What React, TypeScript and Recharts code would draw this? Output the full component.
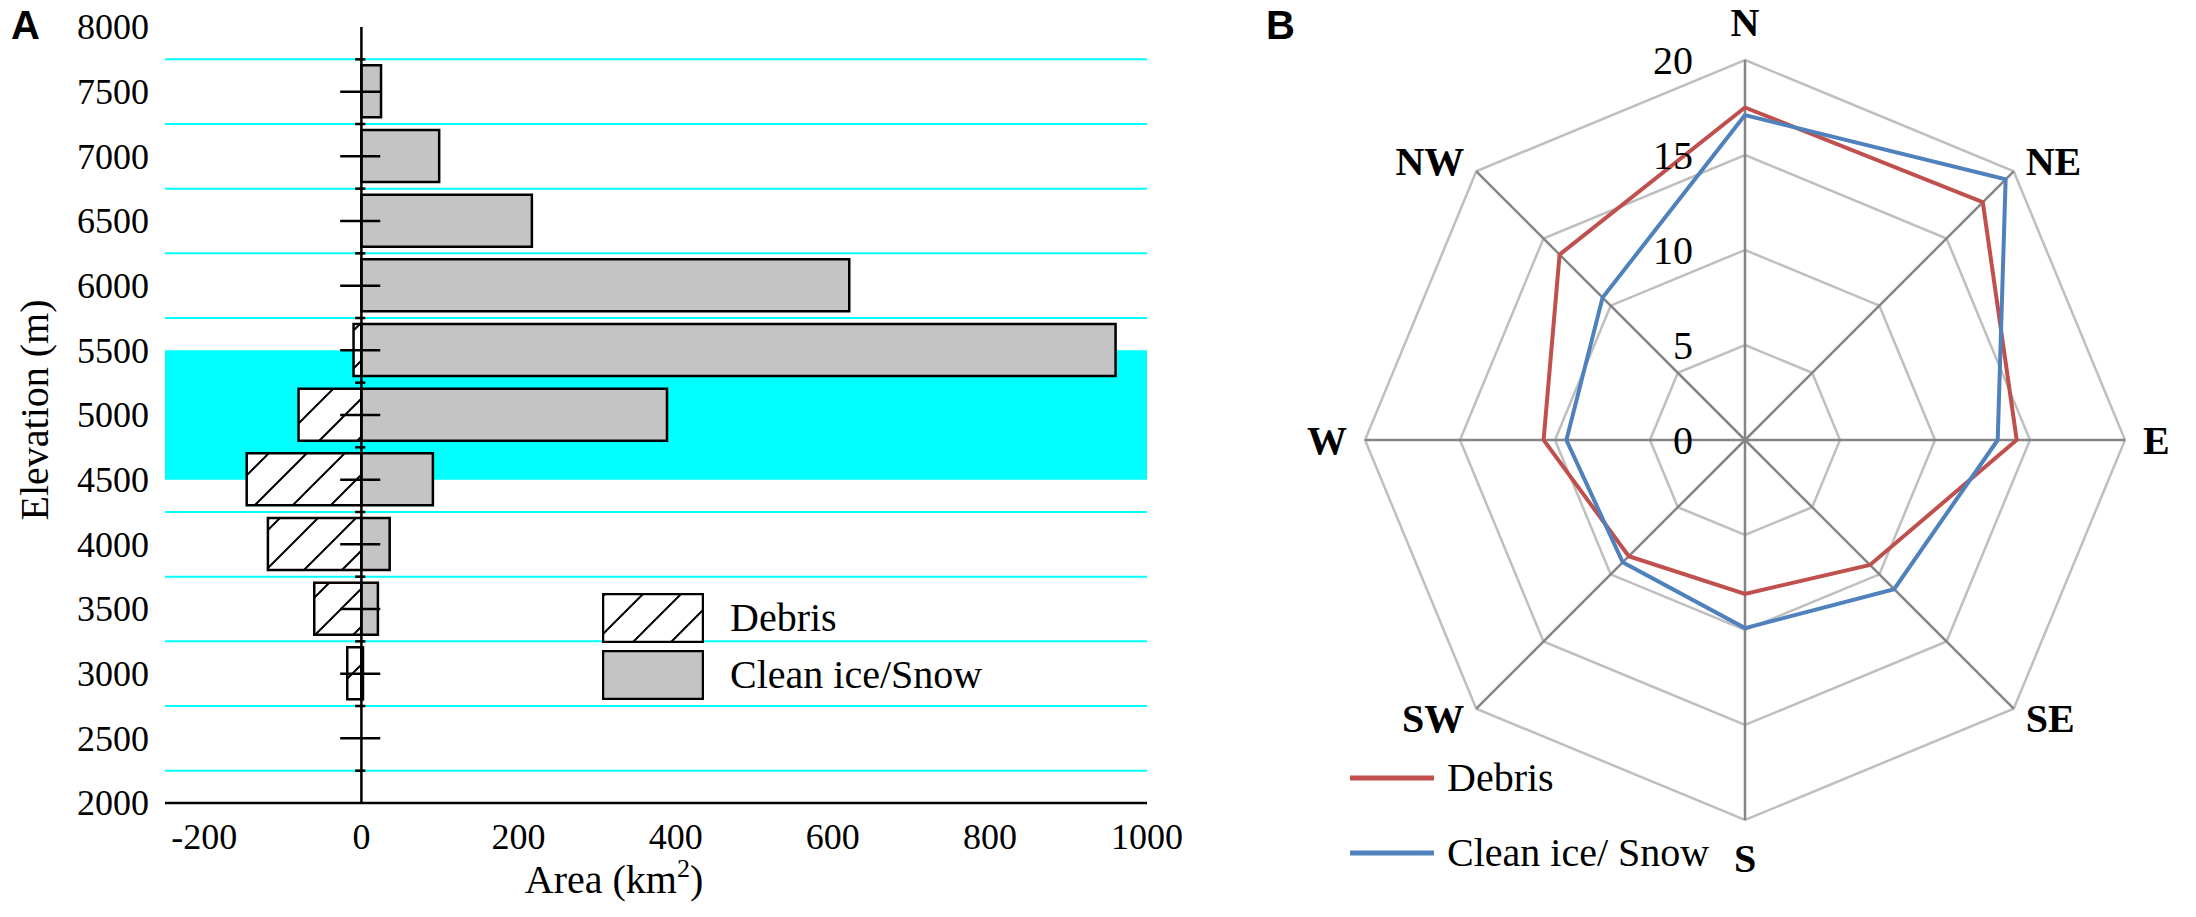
import React from 'react';
import {
  BarChart, Bar, XAxis, YAxis, ReferenceLine, ReferenceArea, Legend,
  RadarChart, Radar, PolarGrid, PolarAngleAxis, PolarRadiusAxis,
} from 'recharts';

// Panel A: glacier area per elevation band (km2), debris drawn to the left of zero
const elevations = [7500, 7000, 6500, 6000, 5500, 5000, 4500, 4000, 3500, 3000, 2500];
const debrisArea = [0, 0, 0, 0, -10, -80, -146, -119, -60, -18, 0];
const cleanArea = [25, 99, 217, 621, 960, 389, 91, 36, 21, 2, 0];
const elevTicks = [2000, 2500, 3000, 3500, 4000, 4500, 5000, 5500, 6000, 6500, 7000, 7500, 8000];
const crossTicks = [2500, 3000, 3500, 4000, 4500, 5000, 5500, 6000, 6500, 7000, 7500];
const gridLevels = [2250, 2750, 3250, 3750, 4250, 4750, 5250, 5750, 6250, 6750, 7250, 7750];
const areaTicks = [-200, 0, 200, 400, 600, 800, 1000];
const highlightBand = [4500, 5500];
const barSeries = ['Debris', 'Clean ice/Snow'];

// Panel B: area share by aspect (%)
const aspects = ['N', 'NE', 'E', 'SE', 'S', 'SW', 'W', 'NW'];
const debrisPct = [17.5, 17.7, 14.3, 9.3, 8.1, 8.65, 10.6, 13.8];
const cleanPct = [17.1, 19.4, 13.3, 11.1, 9.9, 9.1, 9.4, 10.6];
const radarSeries = ['Debris', 'Clean ice/ Snow'];

const barData = elevations.map((e, i) => ({ elev: e, debris: debrisArea[i], clean: cleanArea[i] }));
const radarData = aspects.map((a, i) => ({ aspect: a, debris: debrisPct[i], clean: cleanPct[i] }));

const SERIF = '"Liberation Serif", "Times New Roman", serif';
const SANS = '"Liberation Sans", Arial, sans-serif';
const CYAN = '#00FFFF';
const GRAY = '#C4C4C4';
const RED = '#C0504D';
const BLUE = '#4F81BD';

const RCX = 495;
const RCY = 440;
const RR = 380;

const serifStyle = { fontFamily: SERIF };

const XTick = (props: any) => (
  <text x={props.x} y={props.y} dy="0.72em" textAnchor="middle" fontSize={36} fill="#000" style={serifStyle}>
    {props.payload.value}
  </text>
);

const YTick = (props: any) => (
  <text x={props.x} y={props.y} dy="0.34em" textAnchor="end" fontSize={36} fill="#000" style={serifStyle}>
    {props.payload.value}
  </text>
);

const AreaTitle = (props: any) => {
  const vb = props.viewBox || { x: 165, y: 803, width: 982 };
  return (
    <text x={vb.x + vb.width / 2 - 42} y={vb.y + 90} textAnchor="middle" fontSize={40} fill="#000" style={serifStyle}>
      Area (km<tspan fontSize={26} dy={-16}>2</tspan><tspan dy={16}>)</tspan>
    </text>
  );
};

const ElevTitle = (props: any) => {
  const vb = props.viewBox || { x: 0, y: 27, height: 776 };
  const cy = vb.y + vb.height / 2 - 5;
  return (
    <text x={34} y={cy} dy="0.34em" transform={`rotate(-90, 34, ${cy})`} textAnchor="middle"
      fontSize={40} fill="#000" style={serifStyle}>
      Elevation (m)
    </text>
  );
};

const BarLegend = (props: any) => {
  const items = [...(props.payload || [])].sort(
    (a: any, b: any) => barSeries.indexOf(a.value) - barSeries.indexOf(b.value));
  return (
    <div style={{ fontFamily: SERIF, fontSize: 40, color: '#000' }}>
      {items.map((it: any) => (
        <div key={it.value} style={{ display: 'flex', alignItems: 'center', height: 49, marginBottom: 8 }}>
          <svg width={102} height={50} style={{ display: 'block' }}>
            <defs>
              <pattern id="hatchLeg" patternUnits="userSpaceOnUse" width="38" height="38" x="4">
                <rect width="38" height="38" fill="#fff" />
                <path d="M-4,4 L4,-4 M0,38 L38,0 M34,42 L42,34" stroke="#000" strokeWidth="2" />
              </pattern>
            </defs>
            <rect x={1} y={1} width={100} height={48}
              fill={it.dataKey === 'debris' ? 'url(#hatchLeg)' : GRAY} stroke="#000" strokeWidth={2.5} />
          </svg>
          <span style={{ marginLeft: 26, lineHeight: 1 }}>{it.value}</span>
        </div>
      ))}
    </div>
  );
};

const RadarLegend = (props: any) => {
  const items = [...(props.payload || [])].sort(
    (a: any, b: any) => radarSeries.indexOf(a.value) - radarSeries.indexOf(b.value));
  return (
    <div style={{ fontFamily: SERIF, fontSize: 40, color: '#000' }}>
      {items.map((it: any) => (
        <div key={it.value} style={{ display: 'flex', alignItems: 'center', height: 75 }}>
          <svg width={86} height={10} style={{ display: 'block' }}>
            <line x1={1} y1={5} x2={85} y2={5} stroke={it.color} strokeWidth={5} />
          </svg>
          <span style={{ marginLeft: 12, lineHeight: 1 }}>{it.value}</span>
        </div>
      ))}
    </div>
  );
};

const AspectTick = (props: any) => {
  const { x, y, payload } = props;
  const dx = x - RCX;
  const dy = y - RCY;
  const d = Math.sqrt(dx * dx + dy * dy) || 1;
  const ux = dx / d;
  const uy = dy / d;
  const vx = RCX + ux * RR;
  const vy = RCY + uy * RR;
  let tx = vx;
  let ty = vy;
  let anchor = 'middle';
  if (Math.abs(ux) < 0.01) {
    ty = vy + uy * 38;
  } else {
    anchor = ux > 0 ? 'start' : 'end';
    const side = ux > 0 ? 1 : -1;
    if (Math.abs(uy) < 0.01) {
      tx = vx + side * 18;
    } else {
      tx = vx + side * 12;
      ty = vy + (uy > 0 ? 10 : -10);
    }
  }
  return (
    <text x={tx} y={ty} dy="0.34em" textAnchor={anchor} fontWeight="bold" fontSize={40} fill="#000" style={serifStyle}>
      {payload.value}
    </text>
  );
};

const RadiusTick = (props: any) => {
  const { x, y, payload } = props;
  return (
    <text x={x - 52} y={y} dy="0.34em" textAnchor="end" fontSize={40} fill="#000" style={serifStyle}>
      {payload.value}
    </text>
  );
};

export default function App() {
  return (
    <div style={{ position: 'fixed', left: 0, top: 0, width: 2196, height: 917, background: '#fff', overflow: 'hidden' }}>
      <div style={{ position: 'absolute', left: 11, top: 5, fontFamily: SANS, fontWeight: 'bold', fontSize: 40, lineHeight: 1 }}>A</div>
      <div style={{ position: 'absolute', left: 1266, top: 5, fontFamily: SANS, fontWeight: 'bold', fontSize: 40, lineHeight: 1 }}>B</div>

      <div style={{ position: 'absolute', left: 0, top: 0 }}>
        <BarChart width={1200} height={917} data={barData} layout="vertical" stackOffset="sign"
          margin={{ top: 27, right: 53, bottom: 0, left: 0 }}>
          <defs>
            <pattern id="hatchA" patternUnits="userSpaceOnUse" width="38" height="38">
              <rect width="38" height="38" fill="#fff" />
              <path d="M-4,4 L4,-4 M0,38 L38,0 M34,42 L42,34" stroke="#000" strokeWidth="2" />
            </pattern>
          </defs>
          <XAxis type="number" domain={[-250, 1000]} ticks={areaTicks} interval={0} height={114}
            axisLine={{ stroke: '#000', strokeWidth: 2.5 }} tickLine={false} tickSize={8} tickMargin={12}
            tick={XTick} label={AreaTitle} />
          <YAxis type="number" dataKey="elev" domain={[2000, 8000]} ticks={elevTicks} interval={0} width={165}
            reversed axisLine={false} tickLine={false} tickSize={6} tickMargin={10}
            tick={YTick} label={ElevTitle} />
          <ReferenceArea y1={highlightBand[0]} y2={highlightBand[1]} fill={CYAN} fillOpacity={1} stroke="none" />
          {gridLevels.map((g) => (
            <ReferenceLine key={`g${g}`} y={g} stroke={CYAN} strokeWidth={2} />
          ))}
          <Bar dataKey="debris" name={barSeries[0]} stackId="a" fill="url(#hatchA)" stroke="#000" strokeWidth={2.5}
            barSize={52} isAnimationActive={false} />
          <Bar dataKey="clean" name={barSeries[1]} stackId="a" fill={GRAY} stroke="#000" strokeWidth={2.5}
            barSize={52} isAnimationActive={false} />
          <ReferenceLine x={0} stroke="#000" strokeWidth={2.5} />
          {crossTicks.map((t) => (
            <ReferenceLine key={`t${t}`} segment={[{ x: -27, y: t }, { x: 24, y: t }]} stroke="#000" strokeWidth={2.5} />
          ))}
          {gridLevels.map((g) => (
            <ReferenceLine key={`m${g}`} segment={[{ x: -8, y: g }, { x: 5, y: g }]} stroke="#000" strokeWidth={2.5} />
          ))}
          <Legend layout="vertical" verticalAlign="middle" align="center" content={BarLegend}
            wrapperStyle={{ left: 602, top: 593, width: 'auto' }} />
        </BarChart>
      </div>

      <div style={{ position: 'absolute', left: 1250, top: 0 }}>
        <RadarChart width={946} height={917} data={radarData} cx={RCX} cy={RCY} outerRadius={RR}
          startAngle={90} endAngle={-270} margin={{ top: 0, right: 0, bottom: 0, left: 0 }}>
          {/* rings in light gray, spokes in a darker gray */}
          <PolarGrid gridType="polygon" radialLines={false} stroke="#BFBFBF" strokeWidth={2.5} />
          <PolarGrid gridType="polygon" polarRadius={[]} stroke="#858585" strokeWidth={2.5} />
          <PolarAngleAxis dataKey="aspect" tick={AspectTick} tickLine={false} axisLine={false} />
          <PolarRadiusAxis angle={90} domain={[0, 20]} tickCount={5} axisLine={false} tickLine={false} tick={RadiusTick} />
          <Radar dataKey="debris" name={radarSeries[0]} stroke={RED} strokeWidth={4} fill="none" fillOpacity={0}
            dot={false} isAnimationActive={false} />
          <Radar dataKey="clean" name={radarSeries[1]} stroke={BLUE} strokeWidth={4} fill="none" fillOpacity={0}
            dot={false} isAnimationActive={false} />
          <Legend layout="vertical" verticalAlign="middle" align="center" content={RadarLegend}
            wrapperStyle={{ left: 99, top: 740, width: 'auto' }} />
        </RadarChart>
      </div>
    </div>
  );
}
